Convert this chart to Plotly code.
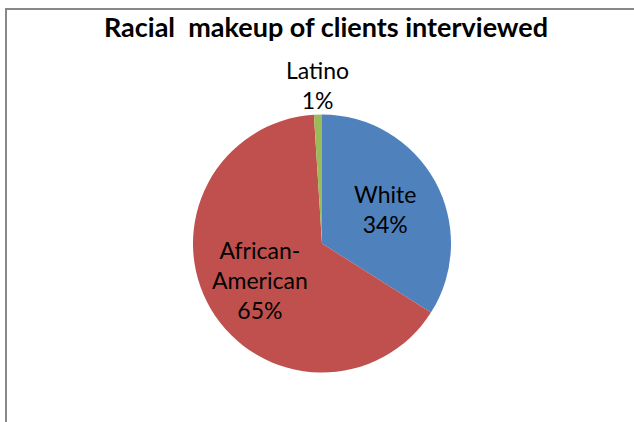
import math
import plotly.graph_objects as go

categories = ["White", "African-American", "Latino"]
label_text = ["White", "African-<br>American", "Latino"]
values = [34, 65, 1]
label_placement = ["inside", "inside", "outside"]
colors = ["#4F81BD", "#C0504D", "#9BBB59"]
title_text = "Racial  makeup of clients interviewed"

W, H = 634, 422
cx, cy, r = 322, 243.5, 129
INSIDE_FRAC, OUTSIDE_FRAC = 0.56, 1.23

fig = go.Figure(go.Pie(
    labels=categories,
    values=values,
    textinfo="none",
    sort=False,
    direction="clockwise",
    rotation=0,
    marker=dict(colors=colors, line=dict(width=0)),
    showlegend=False,
    hoverinfo="label+percent",
    domain=dict(x=[(cx - r) / W, (cx + r) / W], y=[1 - (cy + r) / H, 1 - (cy - r) / H]),
))

# data labels placed along each slice's mid-angle (computed from the values)
total = sum(values)
annotations = []
cum = 0
for txt, v, place in zip(label_text, values, label_placement):
    mid = (cum + v / 2) / total * 2 * math.pi  # clockwise from 12 o'clock
    cum += v
    frac = INSIDE_FRAC if place == "inside" else OUTSIDE_FRAC
    px = cx + frac * r * math.sin(mid)
    py = cy - frac * r * math.cos(mid)
    annotations.append(dict(
        text=f"{txt}<br>{round(v / total * 100)}%",
        x=px / W, y=1 - py / H, xref="paper", yref="paper",
        xanchor="center", yanchor="middle", showarrow=False, align="center",
        font=dict(family="Lato", size=23, color="#000000"),
    ))

fig.update_layout(
    width=W, height=H,
    margin=dict(l=0, r=0, t=0, b=0),
    paper_bgcolor="white",
    title=dict(text="<b>" + title_text + "</b>", x=326 / W, xanchor="center",
               y=1 - 28 / H, yanchor="middle",
               font=dict(family="Lato", size=27, color="#000000")),
    annotations=annotations,
    shapes=[
        dict(type="line", xref="paper", yref="paper", x0=5 / W, x1=1, y0=1 - 9 / H, y1=1 - 9 / H,
             line=dict(color="#888888", width=2)),
        dict(type="line", xref="paper", yref="paper", x0=6 / W, x1=6 / W, y0=0, y1=1 - 8 / H,
             line=dict(color="#888888", width=2)),
    ],
)

fig.write_html(
    "out.html", config={"displayModeBar": False},
    post_script=("document.body.style.margin='0';"
                 "document.body.style.overflow='hidden';"
                 "document.documentElement.style.overflow='hidden';"
                 "window.scrollTo(0,0);"),
)
